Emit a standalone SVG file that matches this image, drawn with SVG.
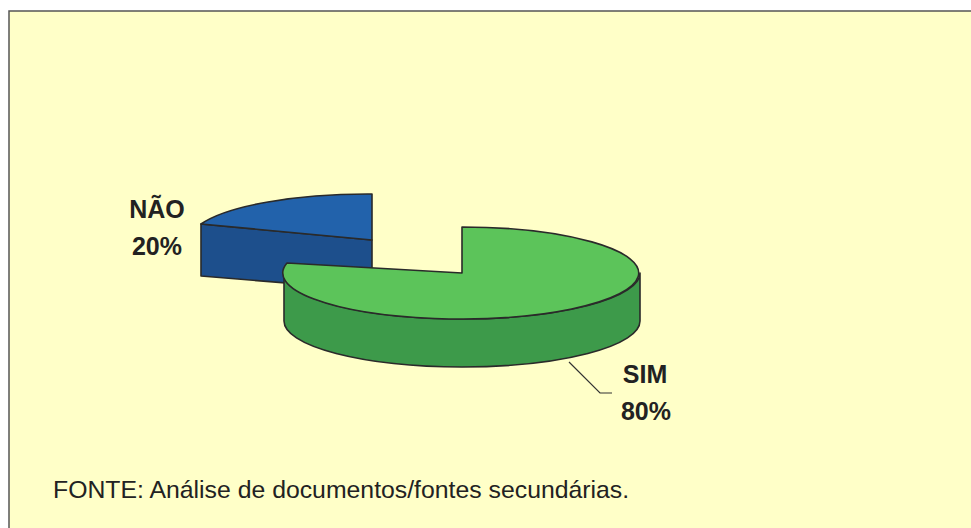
<svg xmlns="http://www.w3.org/2000/svg" width="971" height="528" viewBox="0 0 971 528">
<style>
.lbl{font-family:"Liberation Sans",Arial,sans-serif;font-weight:bold;font-size:25px;fill:#222;text-anchor:middle}
.src{font-family:"Liberation Sans",Arial,sans-serif;font-size:24.8px;fill:#222}
.edge{stroke:#2a2a2a;stroke-width:1.6;stroke-linejoin:round}
</style>
<rect x="0" y="0" width="971" height="528" fill="#ffffff"/>
<rect x="9" y="11" width="980" height="530" fill="#ffffc8" stroke="#555" stroke-width="1.5"/>
<g id="nao">
<path class="edge" d="M372,240 L201,224 L201,276 L372,290 Z" fill="#1d4f8c"/>
<path class="edge" d="M372,240 L372,194 A178 46 0 0 0 201,224 Z" fill="#2262ab"/>
</g>
<g id="sim">
<path class="edge" d="M284,273 A178 46 0 0 0 640,273 L640,321 A178 46 0 0 1 284,321 Z" fill="#3d9a4a"/>
<path class="edge" d="M462,273 L462,227 A178 46 0 1 1 287,263 Z" fill="#5cc45a"/>
</g>
<g id="connectors">
<polyline points="569,362 600,393 612,393" fill="none" stroke="#333" stroke-width="1.2"/>
</g>
<g id="labels">
<text class="lbl" x="157" y="218">NÃO</text>
<text class="lbl" x="157" y="255">20%</text>
<text class="lbl" x="645" y="383">SIM</text>
<text class="lbl" x="646" y="420">80%</text>
</g>
<text class="src" x="53" y="498">FONTE: Análise de documentos/fontes secundárias.</text>
</svg>
